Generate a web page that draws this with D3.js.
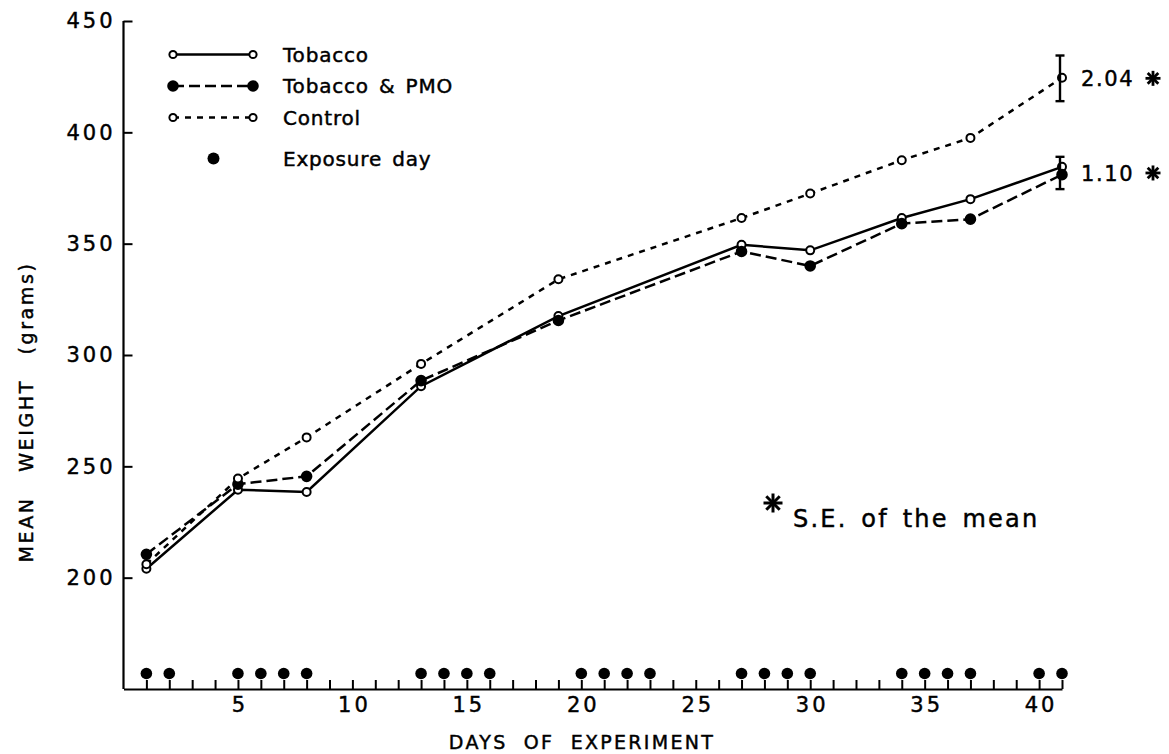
<!DOCTYPE html>
<html>
<head>
<meta charset="utf-8">
<script src="https://cdn.jsdelivr.net/npm/d3@7"></script>
<style>
  html, body { margin: 0; padding: 0; background: #fff; }
  svg { display: block; }
  text { font-family: "DejaVu Sans", sans-serif; fill: #000; stroke: #000; stroke-width: 0.45px; }
</style>
</head>
<body>
<svg id="chart" width="1169" height="754"></svg>
<script>
// Measurement days and mean body weight (grams) per group
const days = [1, 5, 8, 13, 19, 27, 30, 34, 37, 41];
const tobacco = [204, 239.5, 238.5, 286, 317.5, 349.5, 347, 361.5, 370, 384.5];
const tobaccoPmo = [210.5, 242, 245.5, 288.5, 315.5, 346.5, 340, 359, 361, 381];
const control = [206, 244.5, 263, 296, 334, 361.5, 372.5, 387.5, 397.5, 424.5];

// Days on which the animals were exposed
const exposureDays = [1, 2, 5, 6, 7, 8, 13, 14, 15, 16, 20, 21, 22, 23,
                      27, 28, 29, 30, 34, 35, 36, 37, 40, 41];

// Axis ticks
const allDays = d3.range(1, 42);
const xTickLabels = [5, 10, 15, 20, 25, 30, 35, 40];
const yTickValues = [200, 250, 300, 350, 400, 450];

// Final-day error bars and their standard errors
const seLabels = ["2.04", "1.10"];
const barLow = [414, 374.5];
const barHigh = [434.5, 389];

const svg = d3.select("#chart");

const x = d3.scaleLinear().domain([0, 41]).range([123.5, 1062]);
const y = d3.scaleLinear().domain([150, 450]).range([689, 21]);

// Y axis: ticks point inward, labels to the left
const yAxis = svg.append("g")
  .attr("transform", `translate(${x(0)},0)`)
  .call(d3.axisLeft(y).tickValues(yTickValues).tickSizeInner(-9).tickSizeOuter(0).tickPadding(8));
yAxis.select(".domain").attr("d", `M0,${y(450)}V${y(150)}`).attr("stroke", "#000").attr("stroke-width", 2.2);
yAxis.selectAll(".tick line").attr("stroke", "#000").attr("stroke-width", 2);
yAxis.selectAll(".tick text")
  .style("font-size", "21px").style("letter-spacing", "3px")
  .attr("fill", "#000");

// X axis: one upward tick per day, labels every fifth day
const xAxis = svg.append("g")
  .attr("transform", `translate(0,${y(150)})`)
  .call(d3.axisBottom(x).tickValues(allDays).tickSizeInner(-9).tickSizeOuter(0).tickPadding(8)
    .tickFormat(d => xTickLabels.includes(d) ? d : ""));
xAxis.select(".domain").attr("stroke", "#000").attr("stroke-width", 2.2);
xAxis.selectAll(".tick line").attr("stroke", "#000").attr("stroke-width", 2);
xAxis.selectAll(".tick text")
  .style("font-size", "21px").style("letter-spacing", "3px")
  .attr("dx", "1.5px")
  .attr("fill", "#000");

// Exposure-day markers sit on top of the day ticks
svg.append("g").selectAll("circle")
  .data(exposureDays)
  .join("circle")
  .attr("cx", d => x(d))
  .attr("cy", y(150) - 15.5)
  .attr("r", 5.8)
  .attr("fill", "#000");

// Axis titles
svg.append("text")
  .attr("x", 582).attr("y", 749)
  .attr("text-anchor", "middle")
  .style("font-size", "19px")
  .style("letter-spacing", "2.3px")
  .style("word-spacing", "8px")
  .text("DAYS OF EXPERIMENT");

svg.append("text")
  .attr("transform", "translate(33,412) rotate(-90)")
  .attr("text-anchor", "middle")
  .style("font-size", "19px")
  .style("letter-spacing", "2.6px")
  .style("word-spacing", "16px")
  .text("MEAN WEIGHT (grams)");

// Series
const series = [
  { name: "Tobacco", values: tobacco, dash: null, filled: false },
  { name: "Tobacco & PMO", values: tobaccoPmo, dash: "11,5", filled: true },
  { name: "Control", values: control, dash: "6,6", filled: false }
];

const line = d3.line().x(d => x(d[0])).y(d => y(d[1]));

series.forEach(s => {
  const pts = days.map((d, i) => [d, s.values[i]]);
  svg.append("path")
    .datum(pts)
    .attr("d", line)
    .attr("fill", "none")
    .attr("stroke", "#000")
    .attr("stroke-width", 2.5)
    .attr("stroke-dasharray", s.dash);
});

series.forEach(s => {
  const pts = days.map((d, i) => [d, s.values[i]]);
  svg.append("g").selectAll("circle")
    .data(pts)
    .join("circle")
    .attr("cx", d => x(d[0]))
    .attr("cy", d => y(d[1]))
    .attr("r", s.filled ? 4.8 : 4)
    .attr("fill", s.filled ? "#000" : "#fff")
    .attr("stroke", "#000")
    .attr("stroke-width", 2);
});

// Error bars on the last day
const ebX = x(41) - 2;
barLow.forEach((lo, i) => {
  const hi = barHigh[i];
  const g = svg.append("g").attr("stroke", "#000").attr("stroke-width", 2.4);
  g.append("line").attr("x1", ebX).attr("x2", ebX).attr("y1", y(lo)).attr("y2", y(hi));
  g.append("line").attr("x1", ebX - 4.5).attr("x2", ebX + 4.5).attr("y1", y(lo)).attr("y2", y(lo));
  g.append("line").attr("x1", ebX - 4.5).attr("x2", ebX + 4.5).attr("y1", y(hi)).attr("y2", y(hi));
});

// Eight-rayed asterisk
function asterisk(cx, cy, r, w) {
  const g = svg.append("g").attr("stroke", "#000").attr("stroke-width", w).attr("stroke-linecap", "butt");
  [0, 45, 90, 135].forEach(a => {
    const rad = a * Math.PI / 180;
    g.append("line")
      .attr("x1", cx - r * Math.cos(rad)).attr("y1", cy - r * Math.sin(rad))
      .attr("x2", cx + r * Math.cos(rad)).attr("y2", cy + r * Math.sin(rad));
  });
}

seLabels.forEach((lab, i) => {
  const cy = y((barLow[i] + barHigh[i]) / 2);
  svg.append("text")
    .attr("x", ebX + 21).attr("y", cy)
    .attr("dy", "0.36em")
    .style("font-size", "21px")
    .style("letter-spacing", "1.6px")
    .text(lab);
  asterisk(1153, cy, 7.5, 2.8);
});

// Footnote
asterisk(773, 503, 9.5, 3);
svg.append("text")
  .attr("x", 793).attr("y", 527)
  .style("font-size", "24px")
  .style("letter-spacing", "2.2px")
  .style("word-spacing", "4px")
  .text("S.E. of the mean");

// Legend
const legX1 = 173, legX2 = 253, legTextX = 283;
const legRows = [54.5, 86, 117.5];
series.forEach((s, i) => {
  const ly = legRows[i];
  svg.append("line")
    .attr("x1", legX1).attr("x2", legX2).attr("y1", ly).attr("y2", ly)
    .attr("stroke", "#000").attr("stroke-width", 2.5)
    .attr("stroke-dasharray", s.dash);
  [legX1, legX2].forEach(cx => {
    svg.append("circle")
      .attr("cx", cx).attr("cy", ly)
      .attr("r", s.filled ? 4.8 : 3.6)
      .attr("fill", s.filled ? "#000" : "#fff")
      .attr("stroke", "#000").attr("stroke-width", 2);
  });
  svg.append("text")
    .attr("x", legTextX).attr("y", ly)
    .attr("dy", "0.36em")
    .style("font-size", "20px")
    .style("letter-spacing", "0.8px")
    .style("word-spacing", "3px")
    .text(s.name);
});
svg.append("circle").attr("cx", 213.5).attr("cy", 158.5).attr("r", 6).attr("fill", "#000");
svg.append("text")
  .attr("x", legTextX).attr("y", 158.5)
  .attr("dy", "0.36em")
  .style("font-size", "20px")
  .style("letter-spacing", "0.8px")
  .style("word-spacing", "3px")
  .text("Exposure day");
</script>
</body>
</html>
